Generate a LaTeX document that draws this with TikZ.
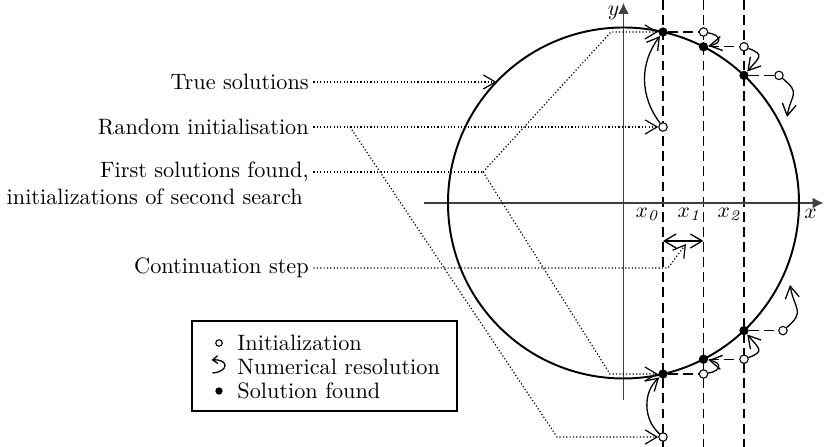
\documentclass[tikz,border=0pt]{standalone}
\usepackage{amsmath}
\usepackage{tikz}
\usetikzlibrary{arrows.meta, positioning, calc}

\tikzset{
  sol/.style={circle, fill=black, inner sep=0pt, minimum size=4.3pt},
  init/.style={circle, draw=black, fill=white, line width=0.5pt, inner sep=0pt, minimum size=3.9pt},
  guide/.style={dash pattern=on 0.55pt off 1pt, line width=0.55pt, -{Straight Barb[length=5.5pt,width=6.5pt]}},
  gridline/.style={dash pattern=on 4.6pt off 2.4pt, line width=0.6pt},
  resol/.style={line width=0.6pt, -{Straight Barb[length=5.5pt,width=6.5pt]}},
  axis/.style={line width=0.7pt, black!75, -{Latex[length=5pt,width=5pt]}},
  lbl/.style={anchor=east, inner sep=2pt},
  legtext/.style={anchor=west, inner sep=0pt},
}

\begin{document}
\begin{tikzpicture}[x=0.1626cm, y=0.1626cm, font=\fontsize{10.3}{12.4}\selectfont]
\useasboundingbox (-62.35,-24.4) rectangle (20.05,20.3);

% --- Continuation grid ---
\foreach \xx in {3.95, 8.0, 12.05}
  \draw[gridline] (\xx,20.3) -- (\xx,-24.4);

% --- Axes ---
\draw[axis] (-19.95,0) -- (20.0,0);
\draw[axis] (0,-19.7) -- (0,20.0);
\node (ylab) at (-1.0,19.0) {$y$};
\node (xlab) at (18.7,-1.1) {$x$};
\node (xa) at (2.45,-1.1) {$x_{\mathit{0}}$};
\node (xb) at (6.65,-1.1) {$x_{\mathit{1}}$};
\node (xc) at (10.65,-1.1) {$x_{\mathit{2}}$};

% --- True solutions ---
\draw[line width=0.9pt] (0,0) circle (17.55);

% --- Upper branch ---
\node[init] (r0) at (3.95,7.6) {};
\node[sol] (s0) at (3.95,17.1) {};
\node[init] (i1) at (8.0,17.1) {};
\node[sol] (s1) at (8.0,15.62) {};
\node[init] (i2) at (12.05,15.62) {};
\node[sol] (s2) at (12.05,12.76) {};
\node[init] (i3) at (15.55,12.76) {};
\coordinate (e3) at (16.35,8.6);

\draw[gridline] (s0) -- (i1);
\draw[gridline] (s1) -- (i2);
\draw[gridline] (s2) -- (i3);
\draw[resol] (r0) to[bend left=37] (s0);
\draw[resol] (i1) to[out=-10, in=10, looseness=2.7] (s1);
\draw[resol] (i2) to[out=-20, in=50, looseness=2] (s2);
\draw[resol] (i3) to[out=-40, in=80, looseness=1.6] (e3);

% --- Lower branch ---
\node[init] (q0) at (3.95,-23.4) {};
\node[sol] (t0) at (3.95,-17.1) {};
\node[init] (j1) at (8.0,-17.1) {};
\node[sol] (t1) at (8.0,-15.62) {};
\node[init] (j2) at (12.05,-15.62) {};
\node[sol] (t2) at (12.05,-12.76) {};
\node[init] (j3) at (15.95,-12.76) {};
\coordinate (e4) at (16.65,-8.2);

\draw[gridline] (t0) -- (j1);
\draw[gridline] (t1) -- (j2);
\draw[gridline] (t2) -- (j3);
\draw[resol] (q0) to[bend left=48] (t0);
\draw[resol] (j1) to[out=10, in=-10, looseness=2.7] (t1);
\draw[resol] (j2) to[out=20, in=-50, looseness=2] (t2);
\draw[resol] (j3) to[out=40, in=-80, looseness=1.5] (e4);

% --- Continuation step ---
\coordinate (st0) at (3.95,-3.8);
\coordinate (st1) at (8.0,-3.8);
\draw[line width=0.6pt, {Straight Barb[length=5.5pt,width=6.5pt]}-{Straight Barb[length=5.5pt,width=6.5pt]}] (st0) -- (st1);

% --- Labels ---
\node[lbl] (ltrue) at (-31.0,12.1) {True solutions};
\node[lbl] (lrand) at (-31.0,7.6) {Random initialisation};
\node[lbl] (lfirst) at (-31.0,3.1) {First solutions found,};
\node[lbl] (lsecond) at (-31.6,0.6) {initializations of second search};
\node[lbl] (lcont) at (-31.0,-6.5) {Continuation step};

\coordinate (ptrue) at (136.4:17.55);
\draw[guide] (ltrue.east) -- (ltrue.east -| ptrue);

\draw[guide] (lrand.east) -- (r0);
\coordinate (rb1) at (-27.35,7.6);
\coordinate (rb2) at (-6.65,-23.4);
\draw[guide] (rb1) -- (rb2) -- (q0);

\coordinate (fb) at (-14.05,3.1);
\coordinate (fu) at (-1.25,17.1);
\coordinate (fd) at (-1.35,-17.1);
\draw[guide, -] (lfirst.east) -- (fb);
\draw[guide] (fb) -- (fu) -- (s0);
\draw[guide] (fb) -- (fd) -- (t0);

\coordinate (cb) at (4.45,-6.5);
\coordinate (ct) at (6.25,-4.1);
\draw[guide] (lcont.east) -- (cb) -- (ct);

% --- Legend ---
\node[draw, line width=0.6pt, inner sep=0pt, minimum width=4.309cm, minimum height=1.463cm] (legend) at (-29.9,-16.3) {};
\node[init, minimum size=3pt] (kinit) at (-40.45,-14.0) {};
\node[legtext] (tinit) at (-38.65,-14.0) {Initialization};
\draw[line width=0.6pt, -{Straight Barb[length=2.4pt,width=3.6pt]}] (-41.1,-17.0) .. controls (-39.5,-16.9) and (-39.4,-15.6) .. (-41.2,-15.7);
\node[legtext] (tres) at (-38.65,-16.4) {Numerical resolution};
\node[sol, minimum size=3.4pt] (ksol) at (-40.45,-18.8) {};
\node[legtext] (tsol) at (-38.65,-18.8) {Solution found};
\end{tikzpicture}
\end{document}
